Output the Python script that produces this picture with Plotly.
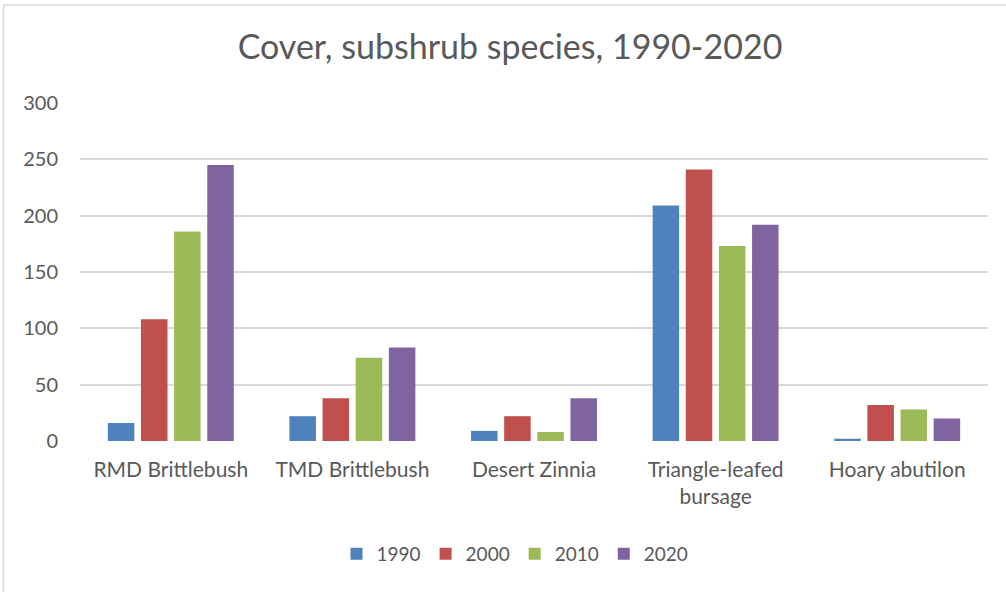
import plotly.graph_objects as go

# Subshrub cover by species and survey year
species = ["RMD Brittlebush", "TMD Brittlebush", "Desert Zinnia",
           "Triangle-leafed<br>bursage", "Hoary abutilon"]
cover_1990 = [16, 22, 9, 209, 2]
cover_2000 = [108, 38, 22, 241, 32]
cover_2010 = [186, 74, 8, 173, 28]
cover_2020 = [245, 83, 38, 192, 20]

years = ["1990", "2000", "2010", "2020"]
series = [cover_1990, cover_2000, cover_2010, cover_2020]
colors = ["#4F81BD", "#C0504D", "#9BBB59", "#8064A2"]

y_ticks = [0, 50, 100, 150, 200, 250, 300]

TEXT = "#595959"
FONT = "Lato, 'Open Sans', sans-serif"

fig = go.Figure()
for name, vals, col in zip(years, series, colors):
    fig.add_trace(go.Bar(
        x=species, y=vals, name=name,
        marker=dict(color=col, line=dict(width=0)),
    ))

W, H = 1006, 592
L, R, T, B = 80, 18, 103, 151
pw, ph = W - L - R, H - T - B

def px_to_paper_x(px):
    return (px - L) / pw

def px_to_paper_y(py):
    return (H - B - py) / ph

fig.update_layout(
    width=W, height=H,
    margin=dict(l=L, r=R, t=T, b=B, autoexpand=False),
    paper_bgcolor="white", plot_bgcolor="white",
    barmode="group", bargap=0.27, bargroupgap=0.2,
    font=dict(family=FONT, color=TEXT, size=20),
    title=dict(
        text="Cover, subshrub species, 1990-2020",
        x=px_to_paper_x(510), xanchor="center", xref="paper",
        y=1 - 47 / H, yanchor="middle",
        font=dict(family=FONT, size=34, color=TEXT),
    ),
    xaxis=dict(
        showgrid=False, zeroline=False, showline=False,
        ticks="", tickfont=dict(size=21, color=TEXT),
        ticklabelstandoff=14,
    ),
    yaxis=dict(
        range=[0, 300], tickvals=y_ticks,
        showgrid=True, gridcolor="#D9D9D9", gridwidth=1.5,
        zeroline=False, showline=False, ticks="",
        tickfont=dict(size=20, color=TEXT), ticklabelstandoff=21,
    ),
    legend=dict(
        orientation="h", x=px_to_paper_x(515), xanchor="center",
        y=px_to_paper_y(554), yanchor="middle",
        font=dict(size=19, color=TEXT), traceorder="normal",
        itemwidth=30,
    ),
    shapes=[
        # chart-area border (top and left edges visible)
        dict(type="line", xref="paper", yref="paper",
             x0=px_to_paper_x(3.5), x1=px_to_paper_x(1010),
             y0=px_to_paper_y(5), y1=px_to_paper_y(5),
             line=dict(color="#D9D9D9", width=1.5)),
        dict(type="line", xref="paper", yref="paper",
             x0=px_to_paper_x(3.5), x1=px_to_paper_x(3.5),
             y0=px_to_paper_y(5), y1=px_to_paper_y(600),
             line=dict(color="#D9D9D9", width=1.5)),
    ],
)

fig.write_html("out.html")
